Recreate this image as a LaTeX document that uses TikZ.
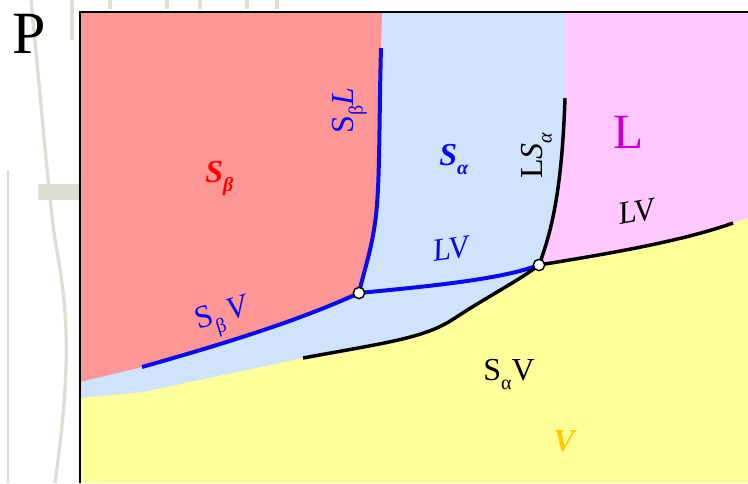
\documentclass[tikz,border=0pt]{standalone}
\usepackage{fontspec}
\setmainfont{Liberation Serif}
\definecolor{regred}{HTML}{FF9696}
\definecolor{regblue}{HTML}{CFE3FC}
\definecolor{regpink}{HTML}{FFC8FF}
\definecolor{regyellow}{HTML}{FFFF99}
\definecolor{lineblue}{HTML}{0A0AF0}
\definecolor{labmag}{HTML}{CC00CC}
\definecolor{labgold}{HTML}{FFCC00}
\definecolor{ghost}{HTML}{DEDED5}
\newcommand{\lowsub}[1]{\raisebox{-0.3em}{\fontsize{15}{15}\selectfont #1}}
\begin{document}
\begin{tikzpicture}[x=0.75pt,y=-0.75pt,
  bluecurve/.style={draw=lineblue, line width=3pt},
  blackcurve/.style={draw=black, line width=2.6pt},
  triple/.style={circle, draw=black, fill=white, line width=1.1pt, minimum size=8.5pt, inner sep=0pt},
  lab/.style={inner sep=0pt, anchor=base west, font=\fontsize{24}{24}\selectfont},
  ghostline/.style={draw=ghost, line width=2.5pt}]
\useasboundingbox (0,0) rectangle (748,483);
\fill[white] (0,0) rectangle (748,483);
% faint background picture
\draw[ghostline] (31,0) .. controls (40,90) and (48,190) .. (55,240) .. controls (68,310) and (72,360) .. (55,483);
\draw[ghostline, line width=2pt] (8,170) -- (8,483);
\fill[ghost] (38,184) rectangle (80,200);
\foreach \gx in {72,110,167,200,247,277} {\draw[ghostline, line width=3pt] (\gx,0) -- (\gx,9);}
\draw[ghostline, line width=3pt] (72,9) -- (72,40);
% key points
\coordinate (tpA) at (359,293);
\coordinate (tpB) at (539,265);
\coordinate (sblTop) at (381,48);
\coordinate (sbvEnd) at (142,367);
\coordinate (lsaTop) at (565,98);
\coordinate (savEnd) at (303,358);
\coordinate (lvEnd) at (733,223);
% regions
\fill[regyellow] (80,12) rectangle (748,483);
\fill[regblue] (80,12) -- (565,12) -- (lsaTop) .. controls (562,185) and (553,228) .. (tpB)
  .. controls (520,280) and (485,298) .. (455,318) .. controls (425,338) and (390,342) .. (savEnd)
  -- (143,392) -- (80,398) -- cycle;
\fill[regred] (80,12) -- (382,12) -- (sblTop) .. controls (379,120) and (380,180) .. (376,215)
  .. controls (372,250) and (364,270) .. (tpA) .. controls (300,320) and (230,342) .. (sbvEnd)
  -- (80,382) -- cycle;
\fill[regpink] (565,12) -- (748,12) -- (748,218) -- (lvEnd) .. controls (680,242) and (600,255) .. (tpB)
  .. controls (553,228) and (562,185) .. (lsaTop) -- cycle;
% frame
\draw[line width=1.6pt] (80,483) -- (80,12) -- (748,12);
% phase boundaries
\draw[bluecurve] (sblTop) .. controls (379,120) and (380,180) .. (376,215) .. controls (372,250) and (364,270) .. (tpA);
\draw[bluecurve] (sbvEnd) .. controls (230,342) and (300,320) .. (tpA);
\draw[bluecurve] (tpA) .. controls (420,287) and (500,280) .. (tpB);
\draw[blackcurve] (tpB) .. controls (553,228) and (562,185) .. (lsaTop);
\draw[blackcurve] (savEnd) .. controls (390,342) and (425,338) .. (455,318) .. controls (485,298) and (520,280) .. (tpB);
\draw[blackcurve] (tpB) .. controls (600,255) and (680,242) .. (lvEnd);
\node[triple] (pA) at (tpA) {};
\node[triple] (pB) at (tpB) {};
% labels
\node[lab, font=\fontsize{45}{45}\selectfont] (pp) at (12,53) {P};
\node[lab, text=red] (sb) at (205,182) {\bfseries\itshape S\lowsub{β}};
\node[lab, text=lineblue] (sa) at (439,165) {\bfseries\itshape S\lowsub{α}};
\node[lab, text=lineblue, rotate=90] (sbl) at (353,134) {S\lowsub{β}\textit{L}};
\node[lab, rotate=90] (lsa) at (542,179) {L\textit{S}\lowsub{\textit{α}}};
\node[lab, text=labmag, font=\fontsize{37}{37}\selectfont] (ll) at (613,148) {L};
\node[lab, rotate=10] (lv1) at (620,225) {\textit{LV}};
\node[lab, text=lineblue, rotate=8] (lv2) at (434,262) {\textit{LV}};
\node[lab, text=lineblue, rotate=17] (sbv) at (198,330) {S\lowsub{β}\,\textit{V}};
\node[lab] (sav) at (483,380) {S\lowsub{α}V};
\node[lab, text=labgold] (vv) at (553,451) {\bfseries\itshape V};
\end{tikzpicture}
\end{document}
